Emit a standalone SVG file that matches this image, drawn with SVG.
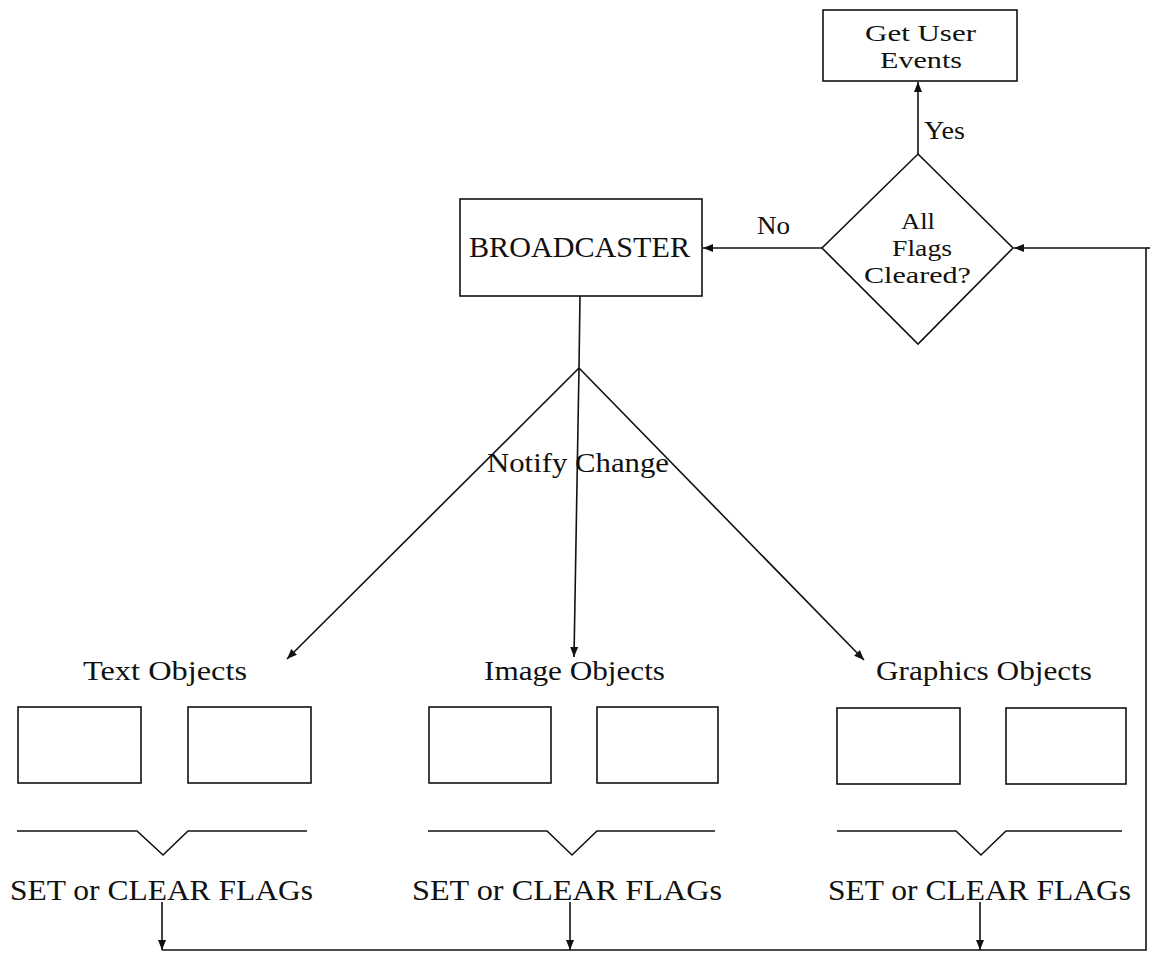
<svg xmlns="http://www.w3.org/2000/svg" width="1150" height="953" viewBox="0 0 1150 953">
  <style>
    .box { fill: #fff; stroke: #111; stroke-width: 1.6; }
    .ln { fill: none; stroke: #111; stroke-width: 1.6; }
    .arr { fill: none; stroke: #111; stroke-width: 1.6; marker-end: url(#head); }
    text { font-family: "Liberation Serif", "Times New Roman", serif; fill: #111; }
    .s23 { font-size: 23px; }
    .s26 { font-size: 26px; }
    .s28 { font-size: 28px; }
    .s30 { font-size: 30px; }
  </style>
  <defs>
    <marker id="head" markerUnits="userSpaceOnUse" markerWidth="12" markerHeight="10" refX="10" refY="4" orient="auto">
      <path d="M0,0 L10,4 L0,8 Z" fill="#111"/>
    </marker>
  </defs>

  <!-- connectors -->
  <g id="connectors">
    <line class="arr" x1="918" y1="154" x2="918" y2="82"/>
    <line class="ln" x1="1150" y1="248" x2="1146" y2="248"/>
    <line class="arr" x1="1146" y1="248" x2="1014" y2="248"/>
    <line class="arr" x1="822" y1="248" x2="703" y2="248"/>
    <polyline class="ln" points="580,296 579,368"/>
    <line class="arr" x1="579" y1="368" x2="287" y2="659"/>
    <line class="arr" x1="579" y1="368" x2="574" y2="657"/>
    <line class="arr" x1="579" y1="368" x2="864" y2="660"/>
    <line class="arr" x1="162" y1="902" x2="162" y2="950"/>
    <line class="arr" x1="570" y1="902" x2="570" y2="950"/>
    <line class="arr" x1="980" y1="902" x2="980" y2="950"/>
    <polyline class="ln" points="162,950 1146,950 1146,248"/>
    <text class="s26" x="924" y="139" textLength="41" lengthAdjust="spacingAndGlyphs">Yes</text>
    <text class="s26" x="757" y="234" textLength="33" lengthAdjust="spacingAndGlyphs">No</text>
    <text class="s28" x="487" y="472" textLength="182" lengthAdjust="spacingAndGlyphs">Notify Change</text>
  </g>

  <!-- Get User Events -->
  <g id="get-user-events">
    <rect class="box" x="823" y="10" width="194" height="71"/>
    <text class="s23" x="865" y="41" textLength="111" lengthAdjust="spacingAndGlyphs">Get User</text>
    <text class="s23" x="880" y="68" textLength="82" lengthAdjust="spacingAndGlyphs">Events</text>
  </g>

  <!-- decision -->
  <g id="all-flags-cleared">
    <polygon class="box" points="918,154 1013,248 918,344 822,248"/>
    <text class="s23" x="901" y="229" textLength="34" lengthAdjust="spacingAndGlyphs">All</text>
    <text class="s23" x="892" y="256" textLength="60" lengthAdjust="spacingAndGlyphs">Flags</text>
    <text class="s23" x="864" y="283" textLength="107" lengthAdjust="spacingAndGlyphs">Cleared?</text>
  </g>

  <!-- broadcaster -->
  <g id="broadcaster">
    <rect class="box" x="460" y="199" width="242" height="97"/>
    <text class="s30" x="469" y="257" textLength="221" lengthAdjust="spacingAndGlyphs">BROADCASTER</text>
  </g>

  <!-- object groups -->
  <g id="text-objects">
    <text class="s28" x="83" y="680" textLength="164" lengthAdjust="spacingAndGlyphs">Text Objects</text>
    <rect class="box" x="18" y="707" width="123" height="76"/>
    <rect class="box" x="188" y="707" width="123" height="76"/>
    <path class="ln" d="M17,831 H137 L163,855 L188,831 H307"/>
    <text class="s30" x="10" y="900" textLength="303" lengthAdjust="spacingAndGlyphs">SET or CLEAR FLAGs</text>
  </g>

  <g id="image-objects">
    <text class="s28" x="484" y="680" textLength="181" lengthAdjust="spacingAndGlyphs">Image Objects</text>
    <rect class="box" x="429" y="707" width="122" height="76"/>
    <rect class="box" x="597" y="707" width="121" height="76"/>
    <path class="ln" d="M428,831 H547 L572,855 L597,831 H715"/>
    <text class="s30" x="412" y="900" textLength="310" lengthAdjust="spacingAndGlyphs">SET or CLEAR FLAGs</text>
  </g>

  <g id="graphics-objects">
    <text class="s28" x="876" y="680" textLength="216" lengthAdjust="spacingAndGlyphs">Graphics Objects</text>
    <rect class="box" x="837" y="708" width="123" height="76"/>
    <rect class="box" x="1006" y="708" width="120" height="76"/>
    <path class="ln" d="M837,831 H956 L981,855 L1006,831 H1122"/>
    <text class="s30" x="828" y="900" textLength="303" lengthAdjust="spacingAndGlyphs">SET or CLEAR FLAGs</text>
  </g>
</svg>
